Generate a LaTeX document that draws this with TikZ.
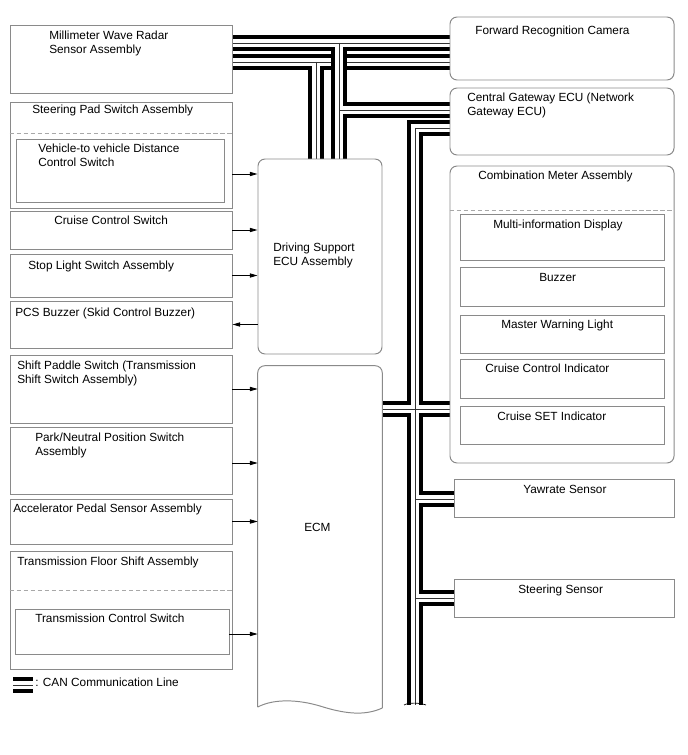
\documentclass[tikz,border=0pt]{standalone}
\usepackage{fontspec}
\setmainfont{Liberation Sans}
\usetikzlibrary{arrows.meta,fit,positioning,backgrounds}
\definecolor{boxGray}{HTML}{8A8A8A}
\definecolor{dashGray}{HTML}{A8A8A8}
\tikzset{
  box/.style={draw=boxGray, line width=0.7pt, inner sep=0pt},
  rbox/.style={box, rounded corners=5pt},
  area/.style={inner sep=0pt},
  lbl/.style={inner sep=0pt, font=\fontsize{8.4}{10}\selectfont, align=left, anchor=north west},
  arr/.style={line width=0.6pt, -{Triangle[length=5.5pt,width=3pt]}},
  canout/.style={line width=10.8pt, black},
  canin/.style={line width=5.4pt, white},
  canmid/.style={line width=0.6pt, black!80},
  sep/.style={draw=dashGray, line width=0.6pt, dash pattern=on 3pt off 2pt},
}
\newcommand\canline[1]{\draw[canout] #1; \draw[canin] #1; \draw[canmid] #1;}

\begin{document}
\begin{tikzpicture}[x=0.025cm, y=-0.025cm]
    \useasboundingbox (0,0) rectangle (688,755);

    % Left column
    \node[box, fit={(10,25) (232,93)}] (radar) {};
    \node[lbl] (t-radar) at (49,31) {Millimeter Wave Radar\\Sensor Assembly};
    \node[box, fit={(10,102) (232,208)}] (spad) {};
    \node[lbl] (t-spad) at (32,105) {Steering Pad Switch Assembly};
    \draw[sep] (spad.west |- 0,133) -- (spad.east |- 0,133);
    \node[box, fit={(16,139) (224,202)}] (vvd) {};
    \node[lbl] (t-vvd) at (38,144) {Vehicle-to vehicle Distance\\Control Switch};
    \node[box, fit={(10,211) (232,249)}] (cruise) {};
    \node[lbl] (t-cruise) at (54,216) {Cruise Control Switch};
    \node[box, fit={(10,254) (232,297)}] (stop) {};
    \node[lbl] (t-stop) at (28,261) {Stop Light Switch Assembly};
    \node[box, fit={(10,301) (232,348)}] (pcs) {};
    \node[lbl] (t-pcs) at (15,308) {PCS Buzzer (Skid Control Buzzer)};
    \node[box, fit={(10,355) (232,423)}] (paddle) {};
    \node[lbl] (t-paddle) at (17,361) {Shift Paddle Switch (Transmission\\Shift Switch Assembly)};
    \node[box, fit={(10,427) (232,494)}] (park) {};
    \node[lbl] (t-park) at (35,433) {Park/Neutral Position Switch\\Assembly};
    \node[box, fit={(10,499) (232,544)}] (accel) {};
    \node[lbl] (t-accel) at (13,504) {Accelerator Pedal Sensor Assembly};
    \node[box, fit={(10,551) (232,669)}] (tfloor) {};
    \node[lbl] (t-tfloor) at (17,557) {Transmission Floor Shift Assembly};
    \draw[sep] (tfloor.west |- 0,590) -- (tfloor.east |- 0,590);
    \node[box, fit={(15,609) (229,654)}] (tcs) {};
    \node[lbl] (t-tcs) at (35,614) {Transmission Control Switch};

    % Centre
    \node[rbox, fit={(258,159) (382,354)}] (dsecu) {};
    \node[lbl] (t-dsecu) at (273,243) {Driving Support\\ECU Assembly};
    \node[area, fit={(258,366) (382,707)}] (ecm) {};
    \draw[boxGray, line width=0.7pt, rounded corners=5pt] (ecm.west |- 0,707) -- (ecm.north west) -- (ecm.north east) -- (ecm.east |- 0,708);
    \draw[boxGray, line width=0.7pt] (ecm.east |- 0,708) .. controls (365,716) and (345,714) .. (320,706) .. controls (300,700) and (275,698) .. (ecm.west |- 0,707);
    \node[lbl] (t-ecm) at (304,523) {ECM};

    % Right column
    \node[rbox, fit={(450,17) (674,80)}] (camera) {};
    \node[lbl] (t-camera) at (475,26) {Forward Recognition Camera};
    \node[rbox, fit={(450,88) (674,155)}] (gateway) {};
    \node[lbl] (t-gateway) at (467,93) {Central Gateway ECU (Network\\Gateway ECU)};
    \node[rbox, fit={(450,166) (674,463)}] (meter) {};
    \node[lbl] (t-meter) at (478,171) {Combination Meter Assembly};
    \draw[sep] (meter.west |- 0,210) -- (meter.east |- 0,210);
    \node[box, fit={(460,214) (664,260)}] (mid) {};
    \node[lbl] (t-mid) at (493,220) {Multi-information Display};
    \node[box, fit={(460,267) (664,306)}] (buzz) {};
    \node[lbl] (t-buzz) at (539,273) {Buzzer};
    \node[box, fit={(460,315) (664,353)}] (mwl) {};
    \node[lbl] (t-mwl) at (501,320) {Master Warning Light};
    \node[box, fit={(460,359) (664,398)}] (cci) {};
    \node[lbl] (t-cci) at (485,364) {Cruise Control Indicator};
    \node[box, fit={(460,406) (664,444)}] (cset) {};
    \node[lbl] (t-cset) at (497,412) {Cruise SET Indicator};
    \node[box, fit={(454,479) (674,517)}] (yaw) {};
    \node[lbl] (t-yaw) at (523,485) {Yawrate Sensor};
    \node[box, fit={(454,579) (674,617)}] (steer) {};
    \node[lbl] (t-steer) at (518,585) {Steering Sensor};

    % Signal lines
    \draw[arr] (spad.east |- 0,174) -- (dsecu.west |- 0,174);
    \draw[arr] (cruise.east) -- (cruise.east -| dsecu.west);
    \draw[arr] (stop.east) -- (stop.east -| dsecu.west);
    \draw[arr] (pcs.east -| dsecu.west) -- (pcs.east);
    \draw[arr] (paddle.east) -- (paddle.east -| ecm.west);
    \draw[arr] (park.east |- 0,463) -- (ecm.west |- 0,463);
    \draw[arr] (accel.east) -- (accel.east -| ecm.west);
    \draw[arr] (tcs.east |- 0,634) -- (ecm.west |- 0,634);

    % CAN lines
    \begin{scope}[on background layer]
    \canline{(radar.east |- 0,62) -- (camera.west |- 0,62) (316,62) -- (dsecu.north -| 316,0)}
    \canline{(radar.east |- 0,43) -- (camera.west |- 0,43) (339,43) -- (dsecu.north -| 339,0) (339,110) -- (gateway.west |- 0,110)}
    \canline{(gateway.west |- 0,128) -- (415,128) -- (415,705) (ecm.east |- 0,409) -- (meter.west |- 0,409) (415,499) -- (yaw.west |- 0,499) (415,598) -- (steer.west |- 0,598)}
    \end{scope}
    \coordinate (busend) at (415,705);
    \draw[line width=0.5pt] ([xshift=-11*0.025cm]busend) .. controls +(5,-3) and +(-5,-2) .. ([xshift=11*0.025cm]busend);

    % Legend
    \canline{(13,685) -- (33,685)}
    \node[lbl] (t-legend) at (35,678) {: CAN Communication Line};
\end{tikzpicture}
\end{document}
